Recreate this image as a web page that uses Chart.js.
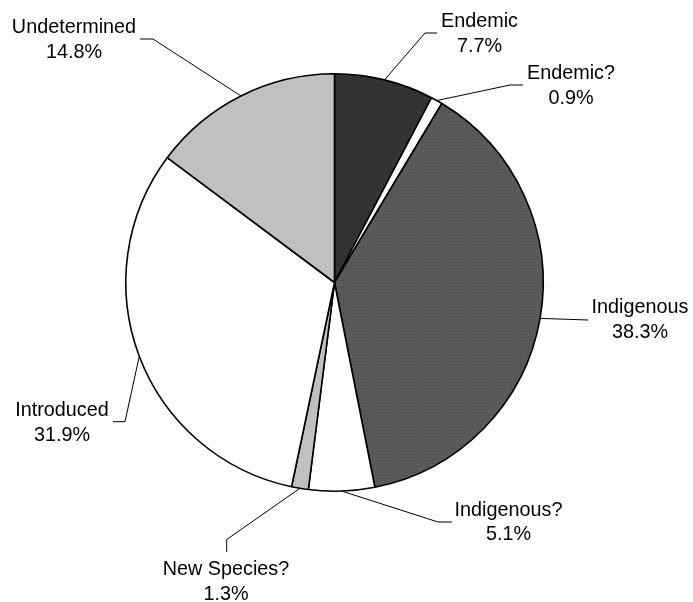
<!DOCTYPE html>
<html>
<head>
<meta charset="utf-8">
<script src="https://cdn.jsdelivr.net/npm/chart.js@4.4.1/dist/chart.umd.min.js"></script>
<style>
  html, body { margin: 0; padding: 0; background: #ffffff; }
  #wrap { width: 693px; height: 602px; position: relative; }
</style>
</head>
<body>
<div id="wrap"><canvas id="c" width="693" height="602"></canvas></div>
<script>
// ---- data ----
const categories = ["Endemic", "Endemic?", "Indigenous", "Indigenous?", "New Species?", "Introduced", "Undetermined"];
const percentages = [7.7, 0.9, 38.3, 5.1, 1.3, 31.9, 14.8];

// ---- presentation ----
function makeDotPattern() {
  const p = document.createElement('canvas');
  p.width = 3; p.height = 3;
  const g = p.getContext('2d');
  g.fillStyle = '#5a5a5a';
  g.fillRect(0, 0, 3, 3);
  g.fillStyle = '#4c4c4c';
  g.fillRect(1, 1, 1, 1);
  return g.createPattern(p, 'repeat');
}
const sliceColors = ['#333333', '#ffffff', makeDotPattern(), '#ffffff', '#c0c0c0', '#ffffff', '#c0c0c0'];

// label layout: bend points of leader (after the start on the rim) and text anchor (center x, first baseline)
const labelLayout = [
  { path: [[425, 33], [437, 33]], tx: 479.5, ty: 27 },
  { path: [[510, 85], [523, 85]], tx: 571, ty: 79 },
  { path: [[588, 320]], tx: 640, ty: 313 },
  { path: [[438, 522], [452, 522]], tx: 508.5, ty: 515.5 },
  { path: [[226.7, 539.5], [226.7, 552]], tx: 226, ty: 575 },
  { path: [[125, 421.7], [113, 421.7]], tx: 62, ty: 416 },
  { path: [[153, 39], [140, 39]], tx: 74, ty: 33 }
];

const leaderPlugin = {
  id: 'leaders',
  afterDatasetsDraw(chart) {
    const ctx = chart.ctx;
    const meta = chart.getDatasetMeta(0);
    ctx.save();
    meta.data.forEach((arc, i) => {
      const lay = labelLayout[i];
      const mid = (arc.startAngle + arc.endAngle) / 2;
      const sx = arc.x + Math.cos(mid) * arc.outerRadius;
      const sy = arc.y + Math.sin(mid) * arc.outerRadius;
      ctx.beginPath();
      ctx.moveTo(sx, sy);
      lay.path.forEach(pt => ctx.lineTo(pt[0], pt[1]));
      ctx.strokeStyle = '#000000';
      ctx.lineWidth = 1;
      ctx.stroke();
      ctx.fillStyle = '#000000';
      ctx.font = '19.8px "Liberation Sans", Arial, sans-serif';
      ctx.textAlign = 'center';
      ctx.textBaseline = 'alphabetic';
      ctx.fillText(categories[i], lay.tx, lay.ty);
      ctx.fillText(percentages[i].toFixed(1) + '%', lay.tx, lay.ty + 24.5);
    });
    ctx.restore();
  }
};

new Chart(document.getElementById('c'), {
  type: 'pie',
  data: {
    labels: categories,
    datasets: [{
      data: percentages,
      backgroundColor: sliceColors,
      borderColor: '#000000',
      borderWidth: 1.6,
      borderAlign: 'center'
    }]
  },
  options: {
    responsive: false,
    animation: false,
    layout: { padding: { left: 125, right: 149, top: 73, bottom: 110 } },
    plugins: {
      legend: { display: false },
      tooltip: { enabled: false }
    }
  },
  plugins: [leaderPlugin]
});
</script>
</body>
</html>
